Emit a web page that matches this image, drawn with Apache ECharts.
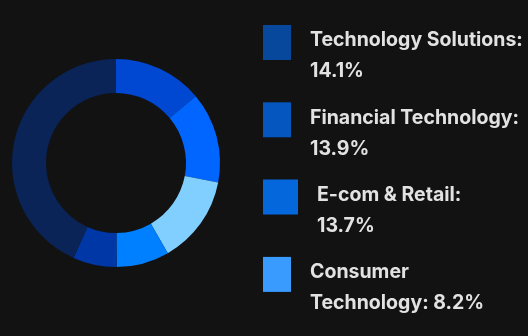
<!DOCTYPE html>
<html><head><meta charset="utf-8">
<script src="https://cdn.jsdelivr.net/npm/echarts@6/dist/echarts.min.js"></script>
<style>html,body{margin:0;padding:0;background:#121212;}#c{width:528px;height:336px;}</style>
</head><body><div id="c"></div>
<script>
// Donut segments (clockwise from top)
const sliceNames = ['Financial Technology','Technology Solutions','E-com & Retail','Consumer Technology','Other Sectors','Remaining'];
const sliceValues = [13.9, 14.1, 13.7, 8.2, 6.8, 43.3];
const sliceColors = ['#0047d2','#0066ff','#80cfff','#0080ff','#0037a6','#0a2457'];
// Legend entries
const legendLabels = ['Technology Solutions:\n14.1%','Financial Technology:\n13.9%','E-com & Retail:\n13.7%','Consumer\nTechnology: 8.2%'];
const legendColors = ['#08489c','#0556bf','#0467dc','#3a9bff'];

const chart = echarts.init(document.getElementById('c'));
const graphic = [];
legendLabels.forEach((t, i) => {
  const top = 25 + i * 77.3;
  const wide = i === 2;
  graphic.push({type:'rect', shape:{x:263, y:top, width: wide ? 35 : 28, height:35}, style:{fill:legendColors[i]}});
  graphic.push({type:'text', x: wide ? 317 : 310, y: top, style:{text:t, fill:'#e2e2e2', fontFamily:'Inter', fontWeight:700, fontSize:19.5, lineHeight:31, verticalAlign:'top'}});
});
chart.setOption({
  backgroundColor:'#121212',
  animation:false,
  graphic: graphic,
  series:[{
    type:'pie', center:[116,163], radius:[70,104], startAngle:90, clockwise:true,
    label:{show:false}, labelLine:{show:false}, emphasis:{disabled:true},
    data: sliceNames.map((n,i)=>({name:n, value:sliceValues[i], itemStyle:{color:sliceColors[i]}}))
  }]
});
</script></body></html>
